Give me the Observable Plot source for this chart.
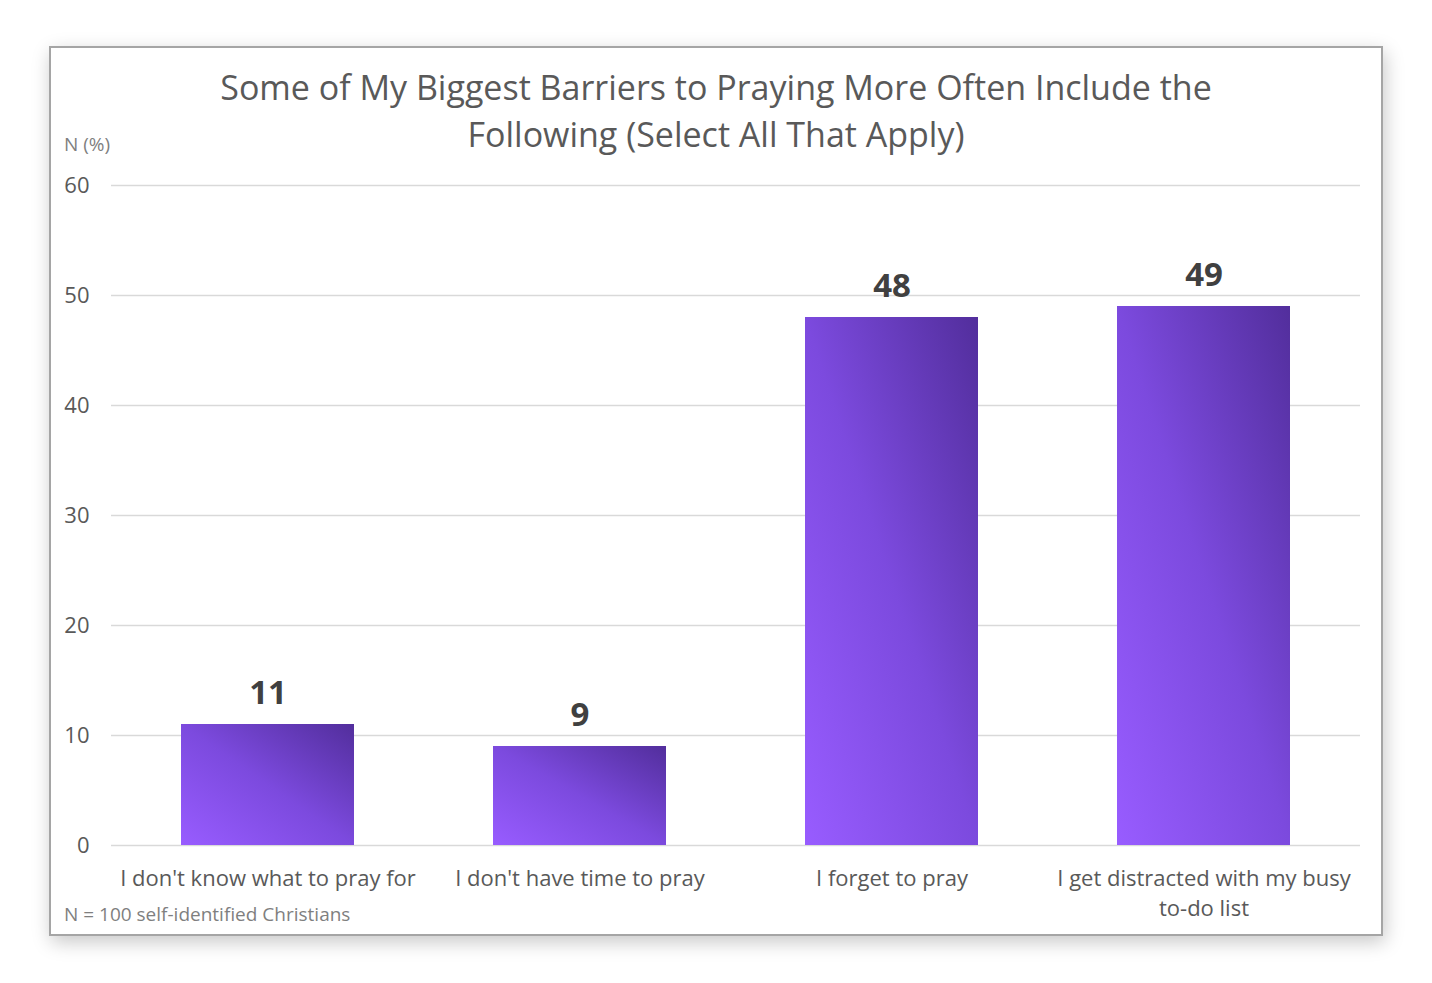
<!DOCTYPE html>
<html>
<head>
<meta charset="utf-8">
<script src="https://cdn.jsdelivr.net/npm/d3@7"></script>
<script src="https://cdn.jsdelivr.net/npm/@observablehq/plot@0.6"></script>
<style>
  html, body { margin: 0; padding: 0; background: #fff; width: 1432px; height: 983px; overflow: hidden; }
  body { position: relative; font-family: "Open Sans", "Noto Sans", sans-serif; }
  #frame { position: absolute; left: 49px; top: 46px; width: 1334px; height: 890px; box-sizing: border-box;
           border: 2px solid #a5a5a5; background: #fff; box-shadow: 2px 6px 18px rgba(0,0,0,0.22); }
  #title { position: absolute; left: 0; top: 64px; width: 1432px; text-align: center; color: #595959;
           font-size: 34px; line-height: 47px; }
  #unit { position: absolute; left: 64px; top: 131px; color: #7f7f7f; font-size: 19px; }
  #note { position: absolute; left: 64px; top: 901px; color: #7f7f7f; font-size: 19px; }
  #chart { position: absolute; left: 0; top: 160px; }
</style>
</head>
<body>
<div id="frame"></div>
<div id="title">Some of My Biggest Barriers to Praying More Often Include the<br>Following (Select All That Apply)</div>
<div id="unit">N (%)</div>
<div id="chart"></div>
<div id="note">N = 100 self-identified Christians</div>
<script>
const categories = [
  "I don't know what to pray for",
  "I don't have time to pray",
  "I forget to pray",
  "I get distracted with my busy to-do list"
];
const values = [11, 9, 48, 49];
const tickLabels = [
  "I don't know what to pray for",
  "I don't have time to pray",
  "I forget to pray",
  "I get distracted with my busy\nto-do list"
];
const yTicks = [0, 10, 20, 30, 40, 50, 60];

const data = categories.map((c, i) => ({category: c, value: values[i]}));
const labelOf = new Map(categories.map((c, i) => [c, tickLabels[i]]));

const plot = Plot.plot({
  width: 1432,
  height: 765,
  marginTop: 25,
  marginBottom: 80,
  marginLeft: 111,
  marginRight: 72,
  style: {fontFamily: "'Open Sans', 'Noto Sans', sans-serif", background: "transparent", overflow: "visible"},
  x: {domain: categories, paddingInner: 0.445, paddingOuter: 0.2225, label: null},
  y: {domain: [0, 60], label: null},
  marks: [
    Plot.gridY(yTicks, {stroke: "#d9d9d9", strokeOpacity: 1, strokeWidth: 1.6}),
    Plot.barY(data, {x: "category", y: "value", fill: "url(#barGrad)"}),
    Plot.text(data, {x: "category", y: "value", text: d => String(d.value), dy: -31,
      fontSize: 33, fontWeight: "bold", fill: "#404040"}),
    Plot.axisY(yTicks, {tickSize: 0, tickPadding: 22, fontSize: 22, color: "#595959", label: null}),
    Plot.axisX({tickSize: 0, tickPadding: 19, fontSize: 22, color: "#595959", lineHeight: 1.36,
      tickFormat: d => labelOf.get(d), textAnchor: "middle"})
  ]
});

const defs = d3.select(plot).insert("defs", ":first-child");
const g = defs.append("linearGradient").attr("id", "barGrad")
  .attr("x1", 0).attr("y1", 1).attr("x2", 1).attr("y2", 0);
g.append("stop").attr("offset", "0%").attr("stop-color", "#985cff");
g.append("stop").attr("offset", "50%").attr("stop-color", "#7c4ade");
g.append("stop").attr("offset", "100%").attr("stop-color", "#522e9c");

document.getElementById("chart").appendChild(plot);
</script>
</body>
</html>
